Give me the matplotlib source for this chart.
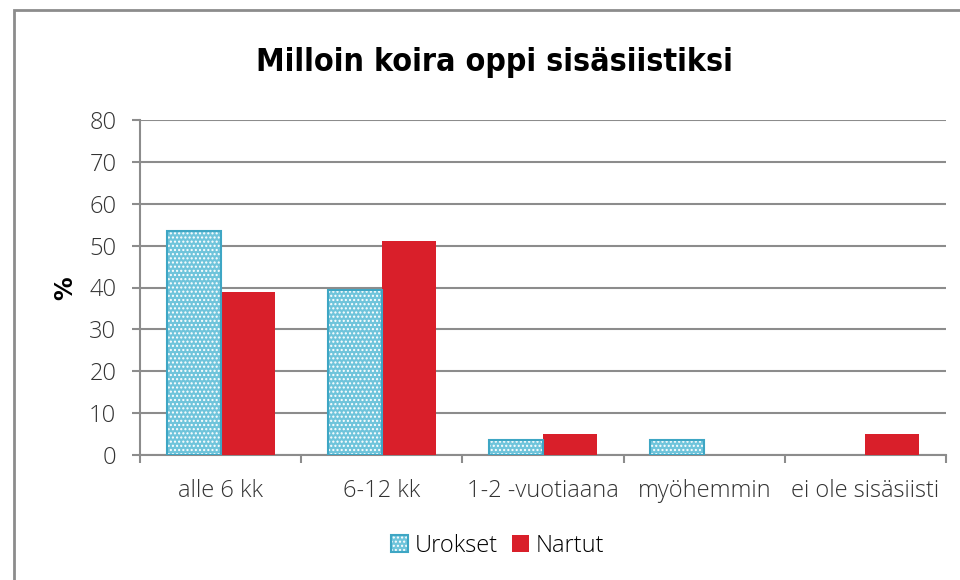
import numpy as np
import matplotlib.pyplot as plt
from matplotlib.patches import Patch, Rectangle

# data (%)
categories = ['alle 6 kk', '6-12 kk', '1-2 -vuotiaana', 'myöhemmin', 'ei ole sisäsiisti']
urokset = [53.6, 39.3, 3.6, 3.6, 0]
nartut = [39.0, 51.2, 4.9, 0, 4.9]
yticks = [0, 10, 20, 30, 40, 50, 60, 70, 80]
title = 'Milloin koira oppi sisäsiistiksi'

plt.rcParams['font.family'] = ['Open Sans', 'DejaVu Sans']
grey = '#8c8c8c'
blue_edge = '#3ea6c4'
blue_fill = '#6fc4db'
red = '#d91f2a'

fig = plt.figure(figsize=(9.6, 5.8), dpi=100)
ax = fig.add_axes([140/960, 1-455/580, 806/960, 335/580])

x = np.arange(len(categories))
w = 0.335

# blue bars: light fill with white dot hatch, then the outline on top
ax.bar(x - w/2, urokset, w, color=blue_fill, edgecolor='white', hatch='....',
       linewidth=0, zorder=3)
ax.bar(x - w/2, urokset, w, facecolor='none', edgecolor=blue_edge,
       linewidth=[1.5 if v > 0 else 0 for v in urokset], zorder=4)
ax.bar(x + w/2, nartut, w, color=red, linewidth=0, zorder=3)

ax.set_xlim(-0.5, len(categories) - 0.5)
ax.set_ylim(0, 80)
ax.set_yticks(yticks)
ax.set_yticklabels([str(v) for v in yticks], fontsize=17, fontweight='light', color='#333333')
ax.tick_params(axis='y', length=6, width=1.5, color=grey, pad=11)

ax.set_xticks(x)
ax.set_xticklabels(categories, fontsize=17, fontweight='light', color='#333333')
ax.tick_params(axis='x', which='major', length=0, pad=17)
ax.set_xticks(np.arange(len(categories) + 1) - 0.5, minor=True)
ax.tick_params(axis='x', which='minor', length=6, width=1.5, color=grey)

ax.grid(axis='y', color=grey, linewidth=1.5, zorder=0)
ax.set_axisbelow(True)
for s in ['top', 'right']:
    ax.spines[s].set_visible(False)
for s in ['left', 'bottom']:
    ax.spines[s].set_color(grey)
    ax.spines[s].set_linewidth(1.5)

fig.text(65/960, 1-288/580, '%', rotation=90, fontsize=17, fontweight='bold',
         ha='center', va='center', family=['DejaVu Sans'])

fig.text(494/960, 1-62/580, title, fontsize=23, fontweight='bold',
         fontstretch='condensed', ha='center', va='center', family=['DejaVu Sans'])

h_uro = (Patch(facecolor=blue_fill, edgecolor='white', hatch='....', linewidth=0),
         Patch(facecolor='none', edgecolor=blue_edge, linewidth=1.5))
h_nar = Patch(facecolor=red, linewidth=0)
fig.legend([h_uro, h_nar], ['Urokset', 'Nartut'], loc='center',
           bbox_to_anchor=(498/960, 1-546/580), ncol=2, frameon=False,
           prop={'size': 17, 'weight': 'light'}, handlelength=0.7,
           handleheight=0.7, handletextpad=0.3, columnspacing=0.6)

# outer chart border
fig.add_artist(Rectangle((14/960, -0.1), 2, 1 - 10/580 + 0.1, fill=False,
                         edgecolor=grey, linewidth=2, transform=fig.transFigure))

fig.savefig('out.png', dpi=100)
